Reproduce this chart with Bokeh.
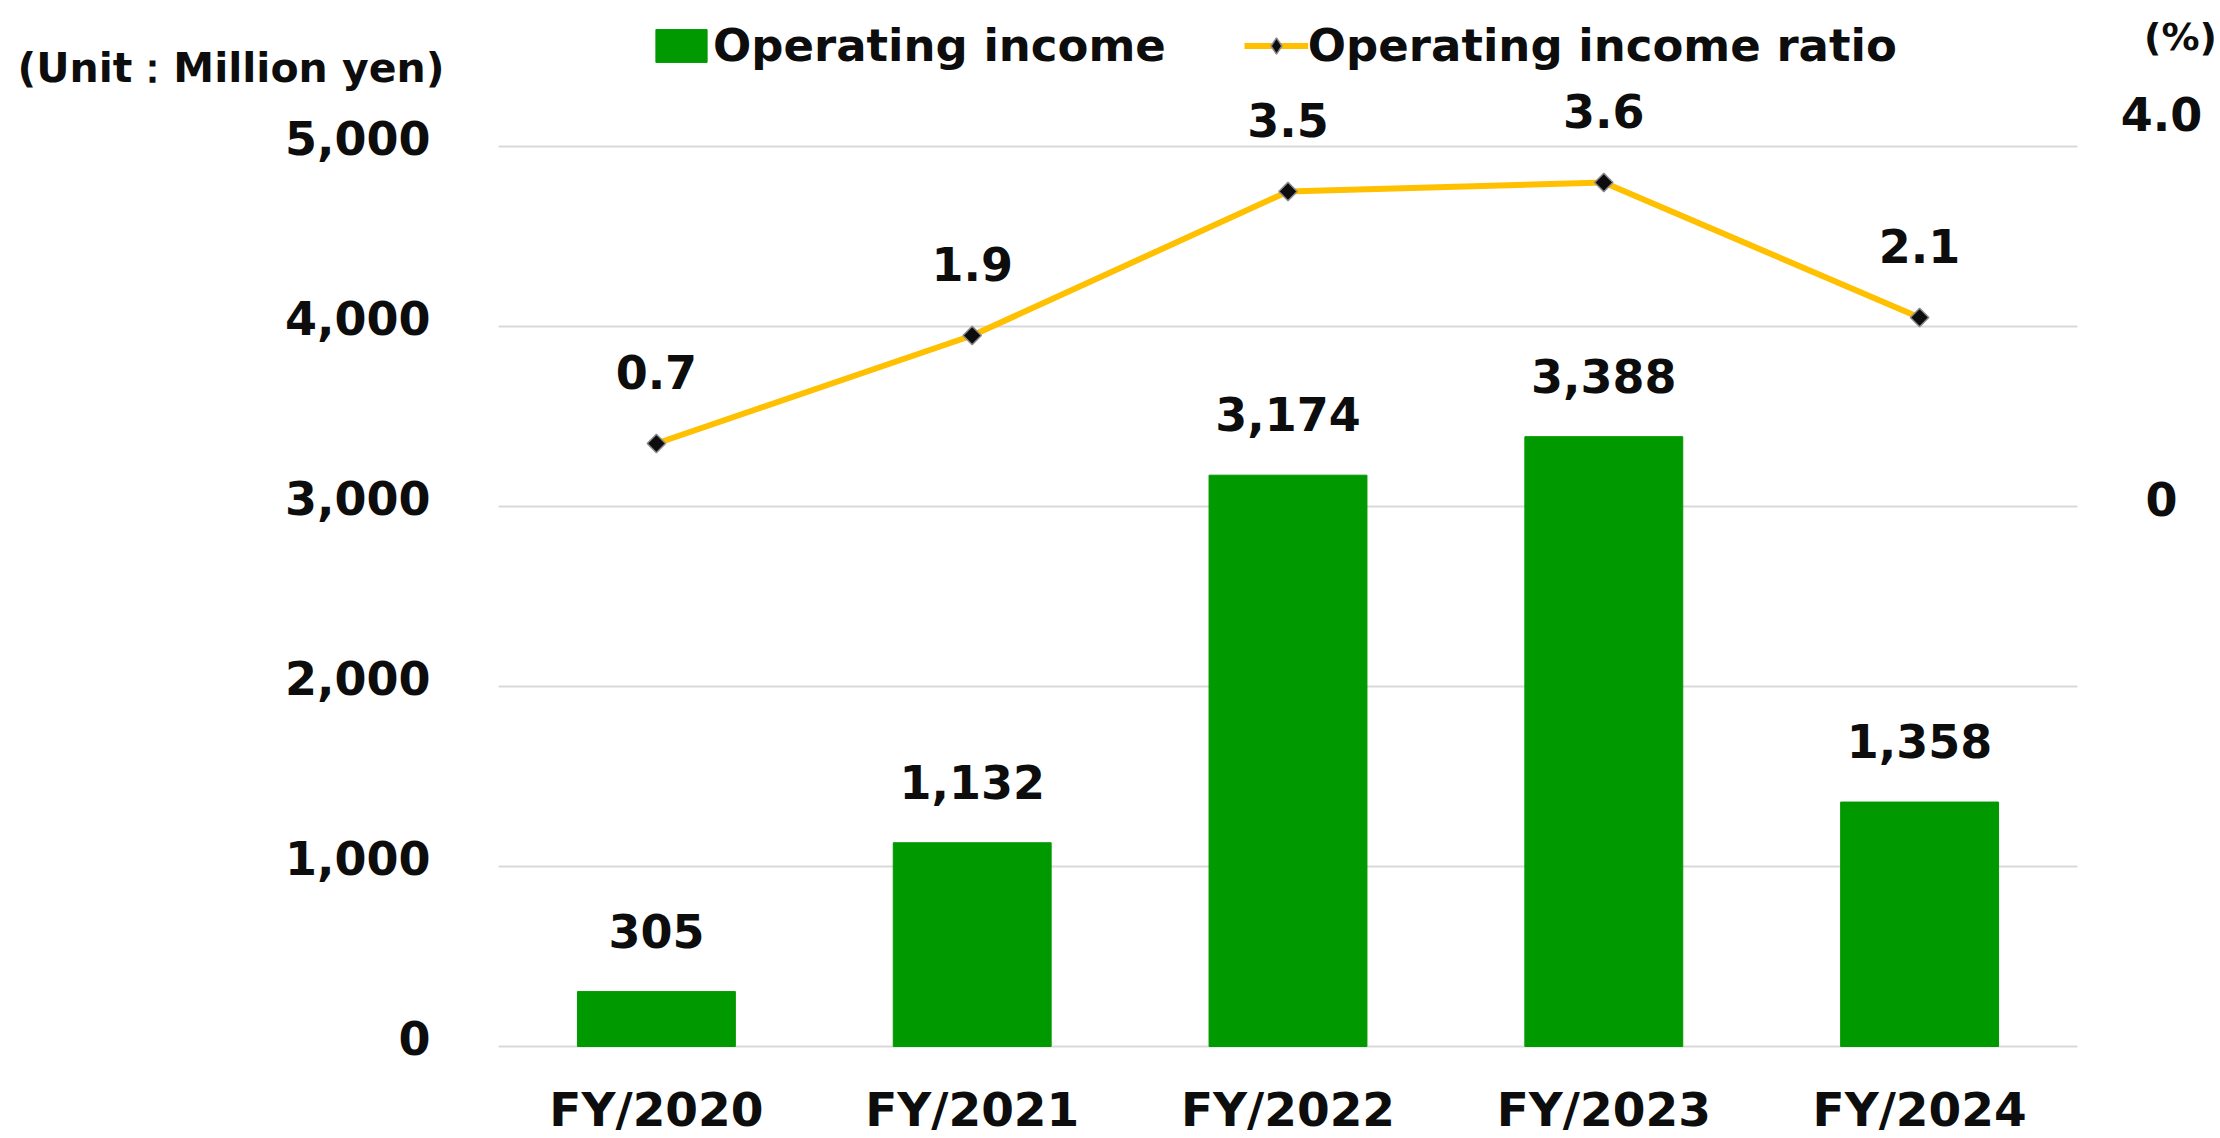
import numpy as np
from bokeh.plotting import figure
from bokeh.models import (Range1d, ColumnDataSource, Legend, LegendItem, Label, LabelSet)
from bokeh.core.properties import value
from bokeh.embed import file_html
from bokeh.resources import INLINE

# ---- data ----
categories = ["FY/2020", "FY/2021", "FY/2022", "FY/2023", "FY/2024"]
operating_income = [305, 1132, 3174, 3388, 1358]
income_ratio = [0.7, 1.9, 3.5, 3.6, 2.1]
income_labels = ["305", "1,132", "3,174", "3,388", "1,358"]
ratio_labels = ["0.7", "1.9", "3.5", "3.6", "2.1"]
left_ticks = [0, 1000, 2000, 3000, 4000, 5000]
left_tick_labels = ["0", "1,000", "2,000", "3,000", "4,000", "5,000"]
right_ticks = [0, 4]
right_tick_labels = ["0", "4.0"]
series_names = ["Operating income", "Operating income ratio"]
unit_text = "(Unit：Million yen)"
pct_text = "(%)"

FONT = "DejaVu Sans"
TXT = "#0D0D0D"
GREEN = "#009900"
GOLD = "#FFC000"
GRID = "#D9D9D9"

W, H = 2220, 1138
# plot-area geometry (pixels) used to set the scales
PL, PR, PB, PT = 498, 2077, 1046, 146
n = len(categories)
cat_px = (PR - PL) / n
xpos = np.arange(n)
y_px = (PB - PT) / 5000.0

x_range = Range1d(-0.5 - PL / cat_px, -0.5 + (W - PL) / cat_px)
y_range = Range1d(-(H - PB) / y_px, PB / y_px)
# ratio axis: 0 -> 3000, 4 -> 5000
r0, r4 = 3000.0, 5000.0
k = (r4 - r0) / 4.0
pct_range = Range1d((y_range.start - r0) / k, (y_range.end - r0) / k)

src = ColumnDataSource(dict(x=xpos, cat=categories, inc=operating_income, ratio=income_ratio,
                            inc_lbl=income_labels, ratio_lbl=ratio_labels))
lt_src = ColumnDataSource(dict(x=[-0.5] * len(left_ticks), x1=[n - 0.5] * len(left_ticks),
                               y=left_ticks, t=left_tick_labels))
# label vertical offsets (style): the top label sits higher above its tick
rt_src = ColumnDataSource(dict(x=[n - 0.5] * len(right_ticks), y=right_ticks, t=right_tick_labels,
                               dy=[8, 33]))

p = figure(width=W, height=H, x_range=x_range, y_range=y_range,
           output_backend="svg", toolbar_location=None,
           min_border_left=0, min_border_right=0, min_border_top=0, min_border_bottom=0)
p.extra_y_ranges = {"pct": pct_range}
p.outline_line_color = None
p.background_fill_color = "white"
p.border_fill_color = "white"
p.axis.visible = False
p.grid.visible = False

# gridlines across the category extent
p.segment(x0="x", x1="x1", y0="y", y1="y", source=lt_src, line_color=GRID, line_width=2)

bars = p.vbar(x="x", top="inc", width=0.5, source=src, fill_color=GREEN, line_color=GREEN)
line = p.line(x="x", y="ratio", source=src, y_range_name="pct", line_color=GOLD, line_width=6)
marks = p.scatter(x="x", y="ratio", source=src, y_range_name="pct", marker="square",
                  angle=np.pi / 4, size=13, fill_color=TXT, line_color="#8c8c8c", line_width=1.5)
# legend-only diamond symbol (not drawn in the plot: NaN position)
legend_marker = p.scatter(x=[np.nan], y=[np.nan], marker="diamond", size=13, fill_color=TXT,
                          line_color="#8c8c8c", line_width=1.5)

common = dict(text_font=value(FONT), text_font_style="bold", text_color=TXT, text_baseline="middle")

p.add_layout(LabelSet(x="x", y="inc", text="inc_lbl", source=src, text_align="center",
                      y_offset=61, text_font_size="46px", **common))
p.add_layout(LabelSet(x="x", y="ratio", text="ratio_lbl", source=src, y_range_name="pct",
                      text_align="center", y_offset=72, text_font_size="46px", **common))
# category labels (x axis)
p.add_layout(LabelSet(x="x", y=0, text="cat", source=src, text_align="center", y_offset=-63,
                      text_font_size="47px", **common))
# left tick labels
p.add_layout(LabelSet(x="x", y="y", text="t", source=lt_src, text_align="right", x_offset=-68,
                      y_offset=9, text_font_size="46px", **common))
# right tick labels
p.add_layout(LabelSet(x="x", y="y", text="t", source=rt_src, y_range_name="pct",
                      text_align="center", x_offset=84, y_offset="dy", text_font_size="46px",
                      **common))

legend = Legend(items=[LegendItem(label=series_names[0], renderers=[bars]),
                       LegendItem(label=series_names[1], renderers=[line, legend_marker])],
                location=(649, H - 72), orientation="horizontal", glyph_width=64, glyph_height=41,
                label_standoff=0, spacing=78, padding=0, margin=0, border_line_color=None,
                background_fill_alpha=0, label_text_font=FONT, label_text_font_style="bold",
                label_text_font_size="45px", label_text_color=TXT)
p.add_layout(legend)

p.add_layout(Label(x=17, y=H - 67, x_units="screen", y_units="screen", text=unit_text,
                   text_align="left", text_baseline="middle", text_font=FONT,
                   text_font_style="bold", text_font_size="41px", text_color=TXT))
p.add_layout(Label(x=2180, y=H - 36, x_units="screen", y_units="screen", text=pct_text,
                   text_align="center", text_baseline="middle", text_font=FONT,
                   text_font_style="bold", text_font_size="38px", text_color=TXT))

open("out.html", "w").write(file_html(p, INLINE))
